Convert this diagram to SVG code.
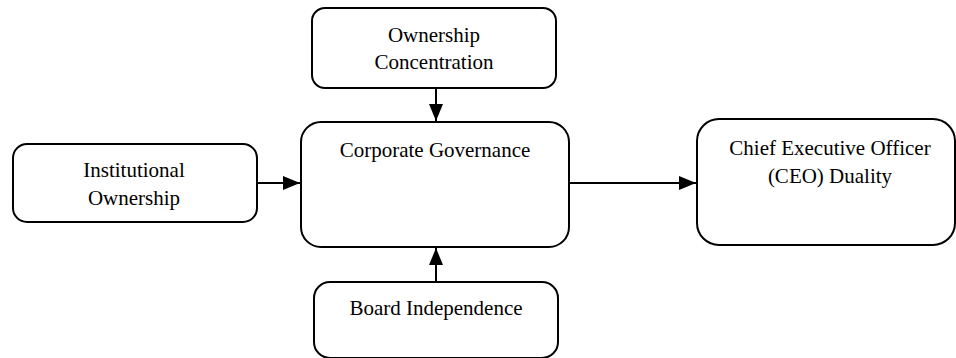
<svg xmlns="http://www.w3.org/2000/svg" width="956" height="358" viewBox="0 0 956 358">
<defs>
<style>
.box{fill:#fff;stroke:#000;stroke-width:2}
.lbl{font-family:'Liberation Serif','Times New Roman',Times,serif;font-size:21px;fill:#000;text-anchor:middle}
.con{stroke:#000;stroke-width:2;fill:none}
</style>
<marker id="ah" markerWidth="17" markerHeight="14" refX="17" refY="7" orient="auto" markerUnits="userSpaceOnUse" viewBox="0 0 17 14">
<path d="M0,0 L17,7 L0,14 Z" fill="#000"/>
</marker>
</defs>
<rect width="956" height="358" fill="#fff"/>
<g id="connectors">
<line class="con" x1="436" y1="88" x2="436" y2="121" marker-end="url(#ah)"/>
<line class="con" x1="257" y1="183" x2="300" y2="183" marker-end="url(#ah)"/>
<line class="con" x1="569" y1="183" x2="696" y2="183" marker-end="url(#ah)"/>
<line class="con" x1="436" y1="282" x2="436" y2="248" marker-end="url(#ah)"/>
</g>
<g font-family="Liberation Serif, serif">
<g id="ownership-concentration">
<rect class="box" x="312" y="8" width="244" height="80" rx="13"/>
<text class="lbl" x="434" y="42">Ownership</text>
<text class="lbl" x="434" y="69">Concentration</text>
</g>
<g id="institutional-ownership">
<rect class="box" x="13" y="144" width="244" height="78" rx="14"/>
<text class="lbl" x="134" y="177">Institutional</text>
<text class="lbl" x="134" y="205">Ownership</text>
</g>
<g id="corporate-governance">
<rect class="box" x="301" y="122" width="268" height="125" rx="20"/>
<text class="lbl" x="435" y="157">Corporate Governance</text>
</g>
<g id="ceo-duality">
<rect class="box" x="697" y="119" width="258" height="126" rx="22"/>
<text class="lbl" x="830" y="155">Chief Executive Officer</text>
<text class="lbl" x="830" y="183">(CEO) Duality</text>
</g>
<g id="board-independence">
<rect class="box" x="314" y="282" width="244" height="76" rx="16"/>
<text class="lbl" x="436" y="315">Board Independence</text>
</g>
</g>
</svg>
